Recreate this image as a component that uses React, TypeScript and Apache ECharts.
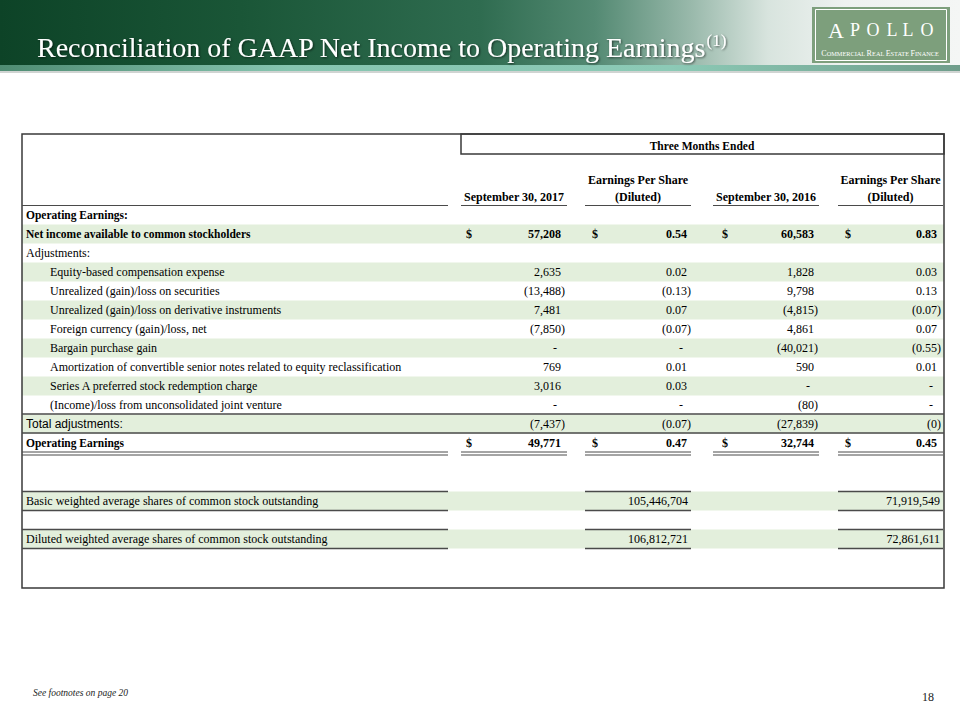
import React, { useEffect, useRef } from "react";
import * as echarts from "echarts";

// ---------- DATA ----------
const titleText = "Reconciliation of GAAP Net Income to Operating Earnings";
const titleSup = "(1)";
const groupHeader = "Three Months Ended";
const colHeadersTop = ["", "Earnings Per Share", "", "Earnings Per Share"];
const colHeadersBottom = ["September 30, 2017", "(Diluted)", "September 30, 2016", "(Diluted)"];

const labels = [
  "Operating Earnings:",
  "Net income available to common stockholders",
  "Adjustments:",
  "Equity-based compensation expense",
  "Unrealized (gain)/loss on securities",
  "Unrealized (gain)/loss on derivative instruments",
  "Foreign currency (gain)/loss, net",
  "Bargain purchase gain",
  "Amortization of convertible senior notes related to equity reclassification",
  "Series A preferred stock redemption charge",
  "(Income)/loss from unconsolidated joint venture",
  "Total adjustments:",
  "Operating Earnings",
];
const sep2017 = ["", "57,208", "", "2,635", "(13,488)", "7,481", "(7,850)", "-", "769", "3,016", "-", "(7,437)", "49,771"];
const eps2017 = ["", "0.54", "", "0.02", "(0.13)", "0.07", "(0.07)", "-", "0.01", "0.03", "-", "(0.07)", "0.47"];
const sep2016 = ["", "60,583", "", "1,828", "9,798", "(4,815)", "4,861", "(40,021)", "590", "-", "(80)", "(27,839)", "32,744"];
const eps2016 = ["", "0.83", "", "0.03", "0.13", "(0.07)", "0.07", "(0.55)", "0.01", "-", "-", "(0)", "0.45"];

const shareLabels = [
  "Basic weighted average shares of common stock outstanding",
  "Diluted weighted average shares of common stock outstanding",
];
const shares2017 = ["105,446,704", "106,812,721"];
const shares2016 = ["71,919,549", "72,861,611"];

const footnote = "See footnotes on page 20";
const pageNumber = "18";
const logoLetters = ["A", "P", "O", "L", "L", "O"];

// ---------- LAYOUT ----------
const SERIF_FAMILY = "Liberation Serif";
const SANS_FAMILY = "Liberation Sans";
const FS = 12;
const boldRows = [0, 1, 12];
const dollarRows = [1, 12];
const indentRows = [3, 4, 5, 6, 7, 8, 9, 10];
const shadedRows = [1, 3, 5, 7, 9, 11];
const sansRows = [11];
const T_LEFT = 22;
const T_RIGHT = 944;
const T_TOP = 134;
const T_BOTTOM = 588;
const ROW0 = 215;
const PITCH = 19;
const colRight = [561, 687, 814, 937];
const colDollar = [466, 592, 722, 845];
const colSeg = [
  [461, 567],
  [585, 691],
  [713, 819],
  [838, 943],
];
const labelSeg = [22, 448];
const shareRowY = [501, 539];
const LINE = "#4a4a4a";
const SHADE = "#e3efdc";

function txt(x: number, y: number, text: string, opts: any = {}) {
  return {
    type: "text",
    x,
    y,
    style: {
      text,
      fontFamily: opts.family || SERIF_FAMILY,
      fontSize: opts.size || FS,
      fontWeight: opts.bold ? "bold" : "normal",
      fontStyle: opts.italic ? "italic" : "normal",
      fill: opts.fill || "#000000",
      textAlign: opts.align || "left",
      textVerticalAlign: "middle",
      ...(opts.extra || {}),
    },
  };
}

function buildGraphics() {
  const g: any[] = [];
  // header background
  g.push({
    type: "rect",
    shape: { x: 0, y: 0, width: 960, height: 66 },
    style: {
      fill: {
        type: "linear", x: 0, y: 0, x2: 1, y2: 0,
        colorStops: [
          { offset: 0, color: "#0d4327" },
          { offset: 0.25, color: "#1a5637" },
          { offset: 0.5, color: "#2f6c50" },
          { offset: 0.62, color: "#548a73" },
          { offset: 0.72, color: "#99b9ab" },
          { offset: 0.8, color: "#d8e4de" },
          { offset: 0.88, color: "#eef2f0" },
          { offset: 1, color: "#f4f6f5" },
        ],
      },
    },
  });
  g.push({
    type: "rect",
    shape: { x: 0, y: 65, width: 960, height: 6 },
    style: {
      fill: {
        type: "linear", x: 0, y: 0, x2: 1, y2: 0,
        colorStops: [
          { offset: 0, color: "#4f8c73" },
          { offset: 0.3, color: "#86c5b0" },
          { offset: 0.7, color: "#8ccab6" },
          { offset: 1, color: "#6f9d8b" },
        ],
      },
    },
  });
  g.push({ type: "rect", shape: { x: 0, y: 71, width: 960, height: 2 }, style: { fill: "#d0d4d2" } });

  // title (one rich text with superscript)
  const shadow = {
    textShadowColor: "rgba(0,0,0,0.6)",
    textShadowBlur: 2,
    textShadowOffsetX: 1,
    textShadowOffsetY: 1,
  };
  g.push({
    type: "text",
    x: 37,
    y: 47,
    style: {
      text: `{t|${titleText}}{s|${titleSup}}`,
      fill: "#ffffff",
      textVerticalAlign: "middle",
      ...shadow,
      rich: {
        t: { fontFamily: SERIF_FAMILY, fontSize: 28, lineHeight: 32, fill: "#ffffff", ...shadow },
        s: {
          fontFamily: SERIF_FAMILY,
          fontSize: 17,
          lineHeight: 17,
          padding: [0, 0, 14, 0],
          fill: "#ffffff",
          ...shadow,
        },
      },
    },
  });

  // logo
  g.push({ type: "rect", shape: { x: 812, y: 7, width: 138, height: 56 }, style: { fill: "#7d9f7c" } });
  g.push({
    type: "rect",
    shape: { x: 815.5, y: 9.5, width: 131, height: 51 },
    style: { fill: "none", stroke: "#ffffff", lineWidth: 1 },
  });
  const letterX = [836, 855, 873, 892, 908, 927];
  logoLetters.forEach((l, i) => {
    g.push(txt(letterX[i], 30, l, { size: i === 0 ? 22 : 18, fill: "#ffffff", align: "center" }));
  });
  g.push({
    type: "text",
    x: 880,
    y: 53,
    style: {
      text: "{c|C}{s|OMMERCIAL }{c|R}{s|EAL }{c|E}{s|STATE }{c|F}{s|INANCE}",
      rich: {
        c: { fontSize: 8, fontFamily: SERIF_FAMILY, fill: "#ffffff" },
        s: { fontSize: 6.3, fontFamily: SERIF_FAMILY, fill: "#ffffff" },
      },
      fill: "#ffffff",
      textAlign: "center",
      textVerticalAlign: "middle",
    },
  });

  // table shading
  labels.forEach((_, i) => {
    if (shadedRows.includes(i)) {
      g.push({
        type: "rect",
        shape: { x: T_LEFT, y: ROW0 + i * PITCH - 9.5, width: T_RIGHT - T_LEFT, height: 19 },
        style: { fill: SHADE },
      });
    }
  });
  shareRowY.forEach((y) => {
    g.push({
      type: "rect",
      shape: { x: T_LEFT, y: y - 9.5, width: T_RIGHT - T_LEFT, height: 19 },
      style: { fill: SHADE },
    });
  });

  const hline = (x1: number, x2: number, y: number, w = 1.2) =>
    g.push({ type: "line", shape: { x1, y1: y, x2, y2: y }, style: { stroke: LINE, lineWidth: w } });

  // outer border
  g.push({
    type: "rect",
    shape: { x: T_LEFT, y: T_TOP, width: T_RIGHT - T_LEFT, height: T_BOTTOM - T_TOP },
    style: { fill: "none", stroke: "#3a3a3a", lineWidth: 1.5 },
  });
  // Three months ended box
  g.push({
    type: "rect",
    shape: { x: 461, y: T_TOP, width: T_RIGHT - 461, height: 20 },
    style: { fill: "none", stroke: "#3a3a3a", lineWidth: 1.5 },
  });
  g.push(txt(702, 146, groupHeader, { bold: true, align: "center", size: 11.5 }));

  // column headers
  colSeg.forEach((seg, c) => {
    const cx = (seg[0] + seg[1]) / 2;
    if (colHeadersTop[c]) g.push(txt(cx, 180, colHeadersTop[c], { bold: true, align: "center" }));
    g.push(txt(cx, 197, colHeadersBottom[c], { bold: true, align: "center" }));
    hline(seg[0], seg[1], 205.5, 1.2);
  });
  hline(labelSeg[0], labelSeg[1], 205.5, 1.2);

  // rows
  const cols = [sep2017, eps2017, sep2016, eps2016];
  labels.forEach((lab, i) => {
    const y = ROW0 + i * PITCH;
    const bold = boldRows.includes(i);
    if (sansRows.includes(i)) {
      g.push(txt(26, y, lab, { family: SANS_FAMILY, size: 12 }));
    } else {
      g.push(txt(indentRows.includes(i) ? 50 : 26, y, lab, { bold, size: bold ? 11.5 : FS }));
    }
    cols.forEach((arr, c) => {
      const v = arr[i];
      if (!v) return;
      let x = colRight[c];
      if (v.endsWith(")")) x += 4;
      else if (v === "-") x -= 4;
      g.push(txt(x, y, v, { bold, align: "right" }));
      if (dollarRows.includes(i)) g.push(txt(colDollar[c], y, "$", { bold }));
    });
  });

  // separators
  hline(T_LEFT, T_RIGHT, ROW0 + 10.5 * PITCH - 0.5, 1.5);
  hline(T_LEFT, T_RIGHT, ROW0 + 11.5 * PITCH - 0.5, 1.5);
  // double lines under Operating Earnings
  const dblY = ROW0 + 12 * PITCH + 9;
  [labelSeg, ...colSeg].forEach((seg) => {
    hline(seg[0], seg[1], dblY, 1);
    hline(seg[0], seg[1], dblY + 3, 1);
  });

  // shares rows
  shareLabels.forEach((lab, k) => {
    const y = shareRowY[k];
    g.push(txt(26, y, lab));
    g.push(txt(688, y, shares2017[k], { align: "right" }));
    g.push(txt(940, y, shares2016[k], { align: "right" }));
    [labelSeg, colSeg[1], colSeg[3]].forEach((seg) => {
      hline(seg[0], seg[1], y - 9.5, 1.6);
      hline(seg[0], seg[1], y + 9.5, 1.6);
    });
  });

  // footer
  g.push(txt(33, 693, footnote, { italic: true, size: 9.5, fill: "#222222" }));
  g.push(txt(934, 697, pageNumber, { size: 12, fill: "#222222", align: "right" }));
  return g;
}

export default function App() {
  const ref = useRef<HTMLDivElement>(null);
  useEffect(() => {
    if (!ref.current) return;
    const chart = echarts.init(ref.current, undefined, { renderer: "svg" });
    chart.setOption({
      animation: false,
      backgroundColor: "#ffffff",
      graphic: { elements: buildGraphics() },
    });
    return () => chart.dispose();
  }, []);
  return (
    <div
      ref={ref}
      style={{ position: "absolute", left: 0, top: 0, width: 960, height: 720 }}
    />
  );
}
